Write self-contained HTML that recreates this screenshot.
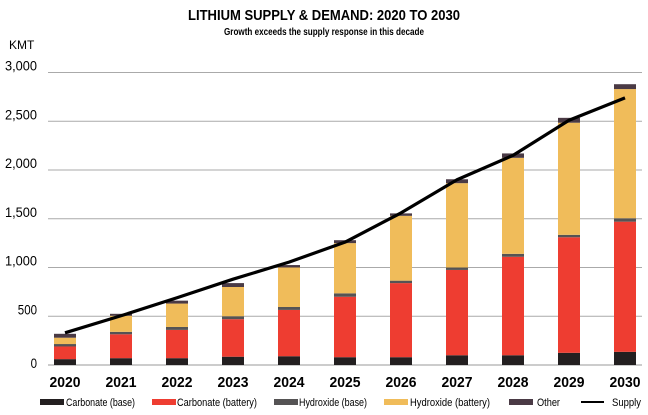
<!DOCTYPE html>
<html><head><meta charset="utf-8"><style>
body{margin:0;background:#fff;}
svg{display:block;font-family:"Liberation Sans Narrow","Liberation Sans",sans-serif;}
</style></head><body>
<svg id="chart" width="648" height="415">
<text x="324" y="20" text-anchor="middle" font-size="15" font-weight="bold" textLength="272" lengthAdjust="spacingAndGlyphs">LITHIUM SUPPLY &amp; DEMAND: 2020 TO 2030</text>
<text x="324" y="35" text-anchor="middle" font-size="10" font-weight="bold" textLength="200" lengthAdjust="spacingAndGlyphs">Growth exceeds the supply response in this decade</text>
<text x="9" y="49" font-size="12">KMT</text>
<g id="grid"></g><g id="bars"></g><g id="line"></g><g id="xl"></g><g id="legend"></g>
</svg>
<script>
const years=["2020","2021","2022","2023","2024","2025","2026","2027","2028","2029","2030"];
const carbonateBase=[60,70,70,85,90,80,80,100,100,125,135];
const carbonateBattery=[130,245,290,385,475,620,760,875,1010,1185,1335];
const hydroxideBase=[25,25,30,30,30,35,25,25,30,25,35];
const hydroxideBattery=[65,165,240,300,405,515,665,865,985,1150,1325];
const other=[40,20,30,40,25,30,25,40,45,50,50];
const supply=[330,505,690,880,1055,1260,1560,1900,2150,2510,2740];
const yTicks=[0,500,1000,1500,2000,2500,3000];
const yTickLabels=["0","500","1,000","1,500","2,000","2,500","3,000"];
const series=[["Carbonate (base)",carbonateBase,"#231f20"],["Carbonate (battery)",carbonateBattery,"#ee3d31"],["Hydroxide (base)",hydroxideBase,"#555354"],["Hydroxide (battery)",hydroxideBattery,"#f0bc5a"],["Other",other,"#4a3a45"]];
const NS="http://www.w3.org/2000/svg";
function y(v){return 365-v*0.0975;}
function x(i){return 65+i*56;}
function mk(t,a,p){const e=document.createElementNS(NS,t);for(const k in a)e.setAttribute(k,a[k]);document.getElementById(p).appendChild(e);return e;}
yTicks.forEach((v,i)=>{
 const g=mk("line",{x1:48,x2:642,y1:y(v),y2:y(v),stroke:v>0?"#aaa":"#999","stroke-width":1},"grid");
 
 
 const lab=yTickLabels[i];
 const t=mk("text",{x:37,y:y(v)+(v===0?3:-2),"text-anchor":"end","font-size":14,textLength:lab.length*6.4,lengthAdjust:"spacingAndGlyphs"},"grid");t.textContent=lab;
 
 
});
years.forEach((yr,i)=>{
 let acc=0;
 series.forEach(s=>{const v=s[1][i];const r=mk("rect",{x:x(i)-11,y:y(acc+v),width:22,height:v*0.0975,fill:s[2]},"bars");
 
 
 acc+=v;});
 const t=mk("text",{x:x(i),y:387,"text-anchor":"middle","font-size":15,"font-weight":"bold",textLength:31,lengthAdjust:"spacingAndGlyphs"},"xl");t.textContent=yr;
 
 
});
const pl=mk("polyline",{points:supply.map((v,i)=>x(i)+","+y(v)).join(" "),fill:"none",stroke:"#000","stroke-width":3.2,"stroke-linejoin":"round"},"line");


const lx=[40,152,274,384,509];
const tx=[66,177,299,410,537];
const lw=[69,80,68,80,23];
series.forEach((s,i)=>{
 const r=mk("rect",{x:lx[i],y:399,width:24,height:6,fill:s[2]},"legend");
 
 
 const t=mk("text",{x:tx[i],y:406,"font-size":11,textLength:lw[i],lengthAdjust:"spacingAndGlyphs"},"legend");t.textContent=s[0];
 
 
});
const ll=mk("line",{x1:581,x2:604,y1:402,y2:402,stroke:"#000","stroke-width":2},"legend");


const lt=mk("text",{x:612,y:406,"font-size":11,textLength:29,lengthAdjust:"spacingAndGlyphs"},"legend");lt.textContent="Supply";


</script>
</body></html>
